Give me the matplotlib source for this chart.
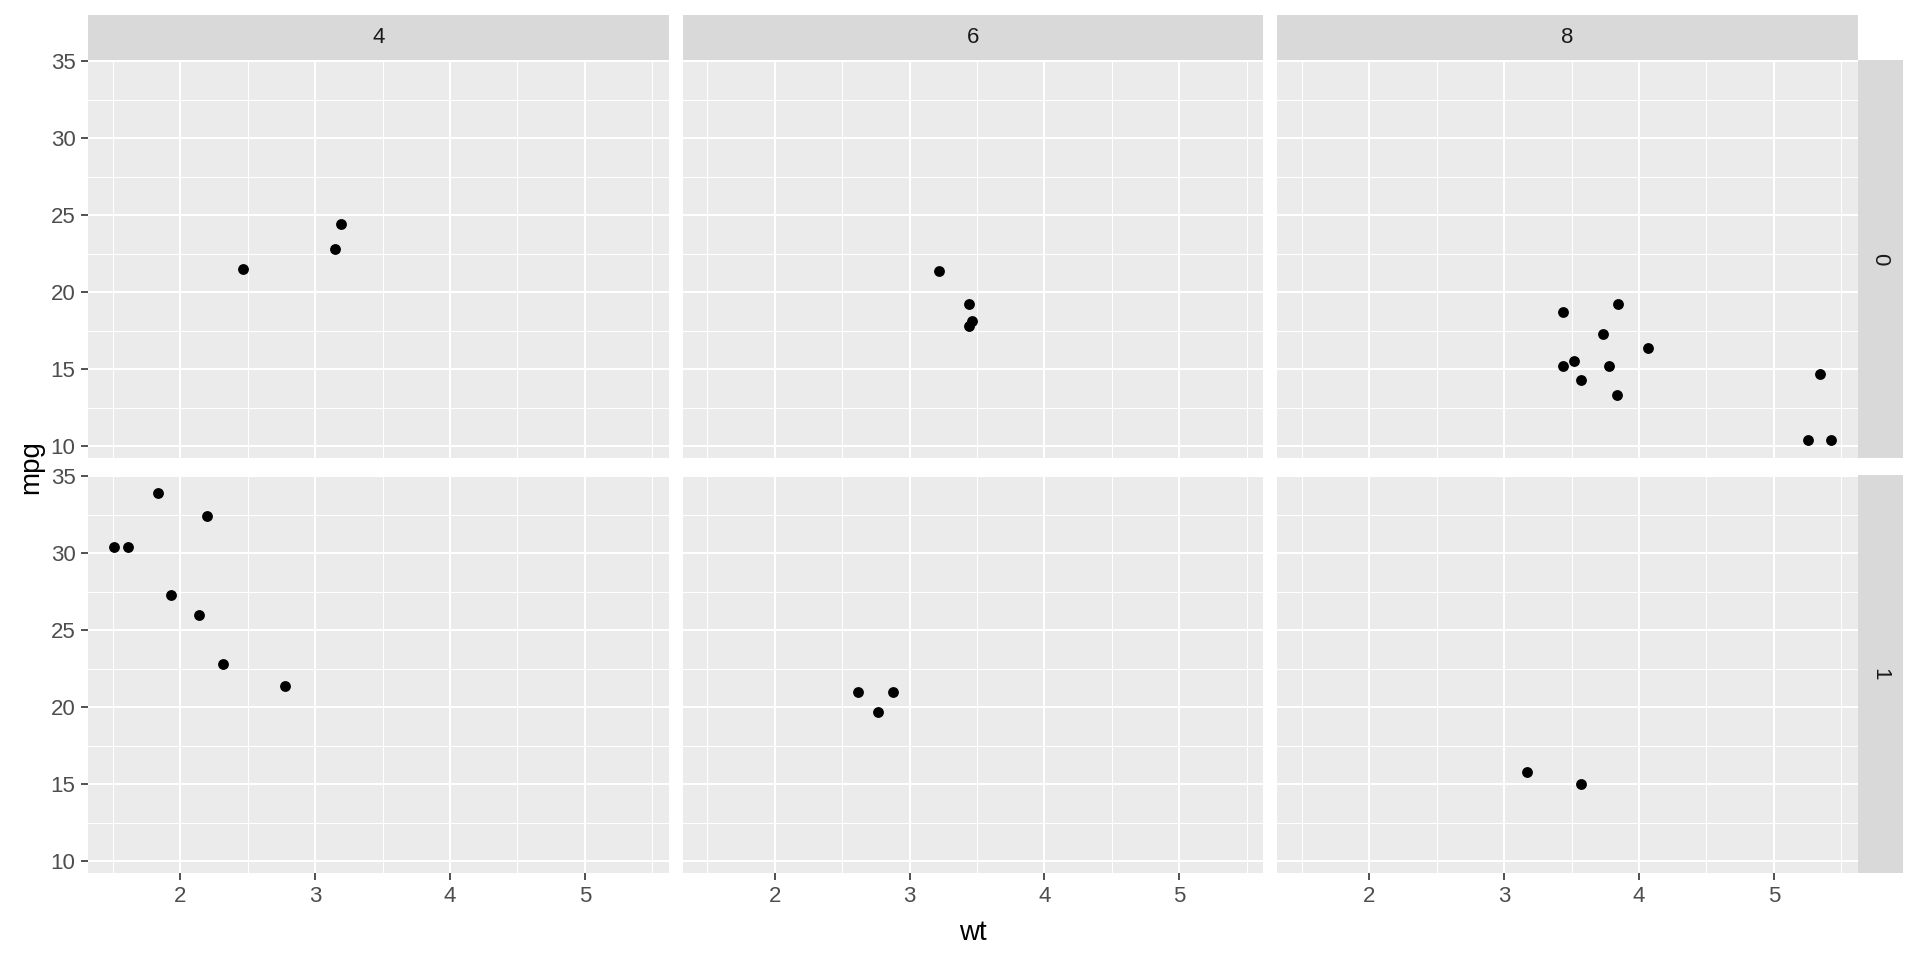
import matplotlib
matplotlib.use('Agg')
import matplotlib.pyplot as plt
import numpy as np

# mtcars: weight, mpg, cylinders, transmission
wt = [2.620, 2.875, 2.320, 3.215, 3.440, 3.460, 3.570, 3.190, 3.150, 3.440, 3.440,
      4.070, 3.730, 3.780, 5.250, 5.424, 5.345, 2.200, 1.615, 1.835, 2.465, 3.520,
      3.435, 3.840, 3.845, 1.935, 2.140, 1.513, 3.170, 2.770, 3.570, 2.780]
mpg = [21.0, 21.0, 22.8, 21.4, 18.7, 18.1, 14.3, 24.4, 22.8, 19.2, 17.8,
       16.4, 17.3, 15.2, 10.4, 10.4, 14.7, 32.4, 30.4, 33.9, 21.5, 15.5,
       15.2, 13.3, 19.2, 27.3, 26.0, 30.4, 15.8, 19.7, 15.0, 21.4]
cyl = [6, 6, 4, 6, 8, 6, 8, 4, 4, 6, 6, 8, 8, 8, 8, 8, 8, 4, 4, 4, 4, 8,
       8, 8, 8, 4, 4, 4, 8, 6, 8, 4]
am = [1, 1, 1, 0, 0, 0, 0, 0, 0, 0, 0, 0, 0, 0, 0, 0, 0, 1, 1, 1, 0, 0,
      0, 0, 0, 1, 1, 1, 1, 1, 1, 1]

cyl_levels = [4, 6, 8]
am_levels = [0, 1]
x_breaks = [2, 3, 4, 5]
y_breaks = [10, 15, 20, 25, 30, 35]

wt = np.array(wt)
mpg = np.array(mpg)
cyl = np.array(cyl)
am = np.array(am)

W, H = 1920, 960
fig = plt.figure(figsize=(19.2, 9.6), dpi=100)
plt.rcParams['font.family'] = ['Liberation Sans', 'DejaVu Sans']


def box(x, y, w, h):
    # pixel box (from top-left) -> figure fraction
    return [x / W, 1 - (y + h) / H, w / W, h / H]


# ggplot-style expanded limits
xr = wt.max() - wt.min()
yr = mpg.max() - mpg.min()
xlim = (wt.min() - 0.05 * xr, wt.max() + 0.05 * xr)
ylim = (mpg.min() - 0.05 * yr, mpg.max() + 0.05 * yr)

col_x = [88, 682.5, 1277]
pw = 580.5
row_y = [60, 475]
ph = 398
strip = 45

panel_bg = '#EBEBEB'
strip_bg = '#D9D9D9'

for r, a in enumerate(am_levels):
    for c, cy in enumerate(cyl_levels):
        ax = fig.add_axes(box(col_x[c], row_y[r], pw, ph))
        ax.set_facecolor(panel_bg)
        for s in ax.spines.values():
            s.set_visible(False)
        ax.set_xlim(*xlim)
        ax.set_ylim(*ylim)
        ax.set_xticks(x_breaks)
        ax.set_yticks(y_breaks)
        ax.set_xticks([1.5, 2.5, 3.5, 4.5, 5.5], minor=True)
        ax.set_yticks([12.5, 17.5, 22.5, 27.5, 32.5], minor=True)
        ax.grid(True, which='major', color='white', linewidth=1.5)
        ax.grid(True, which='minor', color='white', linewidth=0.75)
        ax.set_axisbelow(True)
        ax.tick_params(which='minor', length=0)
        ax.tick_params(which='major', length=5, width=1.2, color='#333333',
                       labelsize=16, labelcolor='#4D4D4D', pad=4)
        if r == 0:
            ax.tick_params(axis='x', bottom=False, labelbottom=False)
        if c > 0:
            ax.tick_params(axis='y', left=False, labelleft=False)

        m = (cyl == cy) & (am == a)
        ax.plot(wt[m], mpg[m], 'o', color='black', markersize=7.8,
                markeredgewidth=0, zorder=3)

        if r == 0:
            sax = fig.add_axes(box(col_x[c], row_y[0] - strip, pw, strip))
            sax.set_facecolor(strip_bg)
            sax.set_xticks([])
            sax.set_yticks([])
            for s in sax.spines.values():
                s.set_visible(False)
            sax.text(0.5, 0.5, str(cy), ha='center', va='center',
                     fontsize=16, color='#1A1A1A', transform=sax.transAxes)
        if c == len(cyl_levels) - 1:
            sax = fig.add_axes(box(col_x[c] + pw, row_y[r], strip, ph))
            sax.set_facecolor(strip_bg)
            sax.set_xticks([])
            sax.set_yticks([])
            for s in sax.spines.values():
                s.set_visible(False)
            sax.text(0.5, 0.5, str(a), ha='center', va='center', rotation=-90,
                     fontsize=16, color='#1A1A1A', transform=sax.transAxes)

fig.text(973 / W, 1 - 933 / H, 'wt', ha='center', va='center', fontsize=20)
fig.text(31 / W, 1 - 467 / H, 'mpg', ha='center', va='center', rotation=90,
         fontsize=20)

fig.savefig('out.png', dpi=100, facecolor='white')
